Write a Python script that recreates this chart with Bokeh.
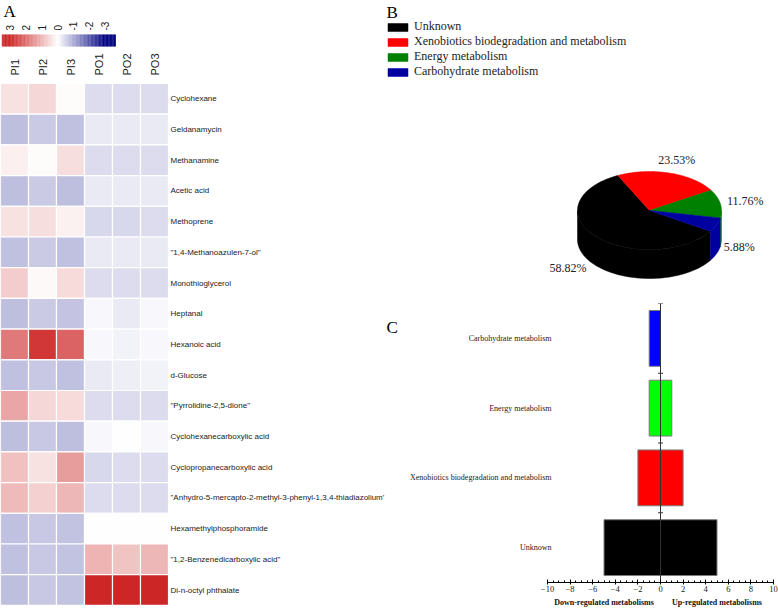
import numpy as np
from bokeh.plotting import figure
from bokeh.layouts import row, column
from bokeh.models import (Range1d, LinearColorMapper, ColumnDataSource, Legend, LegendItem,
                          FixedTicker, SingleIntervalTicker, LinearAxis)
from bokeh.core.properties import value
from bokeh.embed import file_html
from bokeh.resources import INLINE

# ---------------- data ----------------
metabolites = [
    "Cyclohexane",
    "Geldanamycin",
    "Methanamine",
    "Acetic acid",
    "Methoprene",
    "\"1,4-Methanoazulen-7-ol\"",
    "Monothioglycerol",
    "Heptanal",
    "Hexanoic acid",
    "d-Glucose",
    "\"Pyrrolidine-2,5-dione\"",
    "Cyclohexanecarboxylic acid",
    "Cyclopropanecarboxylic acid",
    "\"Anhydro-5-mercapto-2-methyl-3-phenyl-1,3,4-thiadiazolium'",
    "Hexamethylphosphoramide",
    "\"1,2-Benzenedicarboxylic acid\"",
    "Di-n-octyl phthalate",
]
samples = ["PI1", "PI2", "PI3", "PO1", "PO2", "PO3"]
pi1 = [0.40, -0.76, 0.22, -0.76, 0.40, -0.74, 0.70, -0.76, 1.85, -0.74, 1.23, -0.76, 0.85, 0.95, -0.74, -0.74, -0.76]
pi2 = [0.55, -0.62, 0.05, -0.62, 0.45, -0.62, 0.08, -0.62, 2.75, -0.65, 0.55, -0.65, 0.40, 0.65, -0.65, -0.65, -0.65]
pi3 = [0.05, -0.74, 0.45, -0.76, 0.20, -0.74, 0.50, -0.70, 2.15, -0.74, 0.50, -0.76, 1.35, 1.00, -0.72, -0.72, -0.72]
po1 = [-0.42, -0.25, -0.42, -0.25, -0.45, -0.25, -0.42, -0.08, -0.08, -0.25, -0.42, -0.08, -0.45, -0.42, 0.02, 1.05, 3.00]
po2 = [-0.42, -0.25, -0.42, -0.25, -0.45, -0.25, -0.42, -0.25, -0.15, -0.20, -0.42, 0.02, -0.42, -0.42, 0.02, 0.80, 3.00]
po3 = [-0.42, -0.25, -0.42, -0.25, -0.42, -0.25, -0.42, -0.08, -0.08, -0.15, -0.42, -0.08, -0.42, -0.42, 0.02, 1.00, 3.00]
colorbar_ticks = [3, 2, 1, 0, -1, -2, -3]

pathways = ["Unknown", "Xenobiotics biodegradation and metabolism",
            "Energy metabolism", "Carbohydrate metabolism"]
pathway_pct = [58.82, 23.53, 11.76, 5.88]
pathway_down = [-5, -2, -1, -1]
pathway_up = [5, 2, 1, 0]
bar_bounds = (-10, 10)
direction_labels = {-5: "Down-regulated metabolisms", 5: "Up-regulated metabolisms"}

# ---------------- styles ----------------
SERIF = "Liberation Serif"
SANS = "Liberation Sans"
pie_colors = ["#000000", "#ff0000", "#008000", "#0000a0"]
bar_colors = ["#000000", "#ff0000", "#00ff00", "#0000ff"]
pie_label_k = [1.52, 1.35, 1.35, 1.34]


def lerp(c1, c2, t):
    return tuple(int(round(a + (b - a) * t)) for a, b in zip(c1, c2))


NAVY, WHITE, RED = (0, 0, 128), (255, 255, 255), (205, 38, 38)
palette = []
for i in range(256):
    t = i / 255 * 2 - 1
    c = lerp(WHITE, NAVY, -t) if t < 0 else lerp(WHITE, RED, t)
    palette.append("#%02x%02x%02x" % c)
mapper = LinearColorMapper(palette=palette, low=-3, high=3)

TOTAL_W, TOTAL_H = 778, 612

# ---------------- A: heatmap ----------------
A_W, A_H = 385, TOTAL_H
CELL_W, CELL_H, ROW_TOP = 28.0, 30.7, 83.0


def ax(px):
    return px / CELL_W


def ay(px):
    return (px - ROW_TOP) / CELL_H - 0.5


pa = figure(width=A_W, height=A_H, x_range=Range1d(0, A_W / CELL_W),
            y_range=Range1d(ay(A_H), ay(0)), x_axis_location=None, y_axis_location=None,
            min_border=0, output_backend="svg", toolbar_location=None)
pa.grid.visible = False
pa.outline_line_color = None

cols = [pi1, pi2, pi3, po1, po2, po3]
hx, hy, hz = [], [], []
for j, colvals in enumerate(cols):
    for i, v in enumerate(colvals):
        hx.append(j + 0.5)
        hy.append(i)
        hz.append(v)
pa.rect(x="x", y="y", width=1, height=1, source=ColumnDataSource(dict(x=hx, y=hy, z=hz)),
        fill_color={"field": "z", "transform": mapper}, line_color="white", line_width=1.2)

pa.text(x=ax(170), y=list(range(len(metabolites))), text=metabolites,
        text_font=value(SANS), text_font_size="8px", text_align="left",
        text_baseline="middle", text_color="#222222")
pa.text(x=[j + 0.5 for j in range(len(samples))], y=ay(75), text=samples, angle=np.pi / 2,
        text_font=value(SANS), text_font_size="11px", text_align="left",
        text_baseline="middle", text_color="#222222")

# color key
CB_PX0, CB_PXU = 57.0, 15.8   # x px of value 0, px per unit (value decreasing to the right)
vs = np.arange(-3.66, 3.54, 0.05)
cb_src = ColumnDataSource(dict(x=[ax(CB_PX0 - CB_PXU * v) for v in vs], v=list(vs)))
pa.rect(x="x", y=ay(40), width=0.05 * CB_PXU / CELL_W + 0.01, height=12 / CELL_H,
        source=cb_src, fill_color={"field": "v", "transform": mapper}, line_color=None)
pa.text(x=[ax(CB_PX0 - CB_PXU * v) for v in colorbar_ticks], y=ay(30),
        text=[str(v) for v in colorbar_ticks], angle=np.pi / 2,
        text_font=value(SANS), text_font_size="10px", text_align="left",
        text_baseline="middle", text_color="#222222")
pa.text(x=ax(3), y=ay(1), text=["A"], text_font=value(SERIF), text_font_size="17px",
        text_align="left", text_baseline="top", text_color="#000000")

# ---------------- B: pie ----------------
R_LEFT = A_W
R_W = TOTAL_W - A_W
B_H = 300
pb = figure(width=R_W, height=B_H, x_range=Range1d(0, R_W), y_range=Range1d(B_H, 0),
            x_axis_location=None, y_axis_location=None, min_border=0,
            output_backend="svg", toolbar_location=None)
pb.grid.visible = False
pb.outline_line_color = None

CX, CY, RA, RB, DEPTH = 649.0 - R_LEFT, 210.0, 72.0, 39.0, 29.0
START = -32.2


def ell(t_deg, dy=0.0):
    t = np.radians(t_deg)
    return CX + RA * np.cos(t), CY - RB * np.sin(t) + dy


top_xs, top_ys, side_xs, side_ys, side_cols = [], [], [], [], []
lab_x, lab_y, lab_t = [], [], []
hi = START
for k, pct in enumerate(pathway_pct):
    lo = hi - 360.0 * pct / 100.0
    ts = np.linspace(lo, hi, 80)
    px, py = ell(ts)
    top_xs.append([CX] + list(px))
    top_ys.append([CY] + list(py))
    for base in (-540, -180, 180):
        a1, a2 = max(lo, base), min(hi, base + 180)
        if a2 > a1:
            tt = np.linspace(a1, a2, 60)
            ux, uy = ell(tt)
            bx, by = ell(tt[::-1], DEPTH)
            side_xs.append(list(ux) + list(bx))
            side_ys.append(list(uy) + list(by))
            side_cols.append(pie_colors[k])
    mr = np.radians((lo + hi) / 2.0)
    kk = pie_label_k[k]
    lab_x.append(CX + RA * kk * np.cos(mr))
    lab_y.append(CY - RB * kk * np.sin(mr) + (0.6 * DEPTH if np.sin(mr) < 0 else 0))
    lab_t.append("%.2f%%" % pct)
    hi = lo

pb.patches(xs=side_xs, ys=side_ys, fill_color=side_cols, line_color=side_cols, line_width=0.5)
tops = pb.patches(xs=top_xs, ys=top_ys, fill_color=pie_colors, line_color=pie_colors,
                  line_width=0.5)
pb.text(x=lab_x, y=lab_y, text=lab_t, text_font=value(SERIF), text_font_size="12px",
        text_align="center", text_baseline="middle", text_color="#222222")
pb.text(x=[1], y=[2], text=["B"], text_font=value(SERIF), text_font_size="17px",
        text_align="left", text_baseline="top", text_color="#000000")

legend = Legend(items=[LegendItem(label=name, renderers=[tops], index=i)
                       for i, name in enumerate(pathways)],
                location=(0, 221), orientation="vertical", glyph_width=25, glyph_height=10,
                label_height=12, spacing=0, padding=0, margin=0, label_standoff=4,
                border_line_color=None, background_fill_alpha=0,
                label_text_font=SERIF, label_text_font_size="12px", label_text_color="#222222")
pb.add_layout(legend)

# ---------------- C: bars ----------------
C_H = TOTAL_H - B_H
ZERO_PX, PXU = 660.0, 11.3       # page x of value 0, px per unit
FRAME_TOP, AXIS_Y = 303.0, 582.0  # page y
MT = int(FRAME_TOP - B_H)
MB = int(TOTAL_H - AXIS_Y)
xr = Range1d((R_LEFT - ZERO_PX) / PXU, (TOTAL_W - ZERO_PX) / PXU)
pc = figure(width=R_W, height=C_H, x_range=xr, y_range=Range1d(0, len(pathways)),
            y_axis_location=None, min_border_left=0, min_border_right=0,
            min_border_top=MT, min_border_bottom=MB,
            output_backend="svg", toolbar_location=None)
pc.grid.visible = False
pc.outline_line_color = None

ypos = [i + 0.5 for i in range(len(pathways))]
pc.hbar(y=ypos, left=pathway_down, right=pathway_up, height=0.8,
        fill_color=bar_colors, line_color="#7a7a7a", line_width=1)
pc.segment(x0=0, y0=0, x1=0, y1=len(pathways), line_color="#333333", line_width=1)
pc.scatter(x=[0] * len(pathways), y=list(range(1, len(pathways) + 1)), marker="dash",
           size=5, line_color="#333333", line_width=1)
pc.text(x=(551 - ZERO_PX) / PXU, y=ypos, text=pathways, text_font=value(SERIF),
        text_font_size="8px", text_align="right", text_baseline="middle",
        text_color="#222222")
yu = len(pathways) / (AXIS_Y - FRAME_TOP)
pc.text(x=(R_LEFT + 1 - ZERO_PX) / PXU, y=len(pathways) - (327 - FRAME_TOP) * yu, text=["C"],
        text_font=value(SERIF), text_font_size="17px", text_align="left",
        text_baseline="middle", text_color="#000000")

xa = pc.xaxis[0]
xa.bounds = bar_bounds
xa.ticker = SingleIntervalTicker(interval=2, num_minor_ticks=4)
xa.major_tick_in, xa.major_tick_out = 3, 2
xa.minor_tick_in, xa.minor_tick_out = 2, 0
xa.axis_line_color = "#000000"
xa.major_label_text_font = SERIF
xa.major_label_text_font_size = "8.5px"
xa.major_label_text_color = "#222222"
xa.major_label_standoff = 1

ax2 = LinearAxis(ticker=FixedTicker(ticks=list(direction_labels.keys())),
                 major_label_overrides=direction_labels,
                 axis_line_color=None, major_tick_line_color=None, minor_tick_line_color=None,
                 major_tick_in=0, major_tick_out=0, minor_tick_in=0, minor_tick_out=0,
                 major_label_standoff=3, major_label_text_font=SERIF,
                 major_label_text_font_size="8px", major_label_text_font_style="bold",
                 major_label_text_color="#111111")
pc.add_layout(ax2, "below")

layout = row(pa, column(pb, pc))
open("out.html", "w").write(file_html(layout, INLINE))
